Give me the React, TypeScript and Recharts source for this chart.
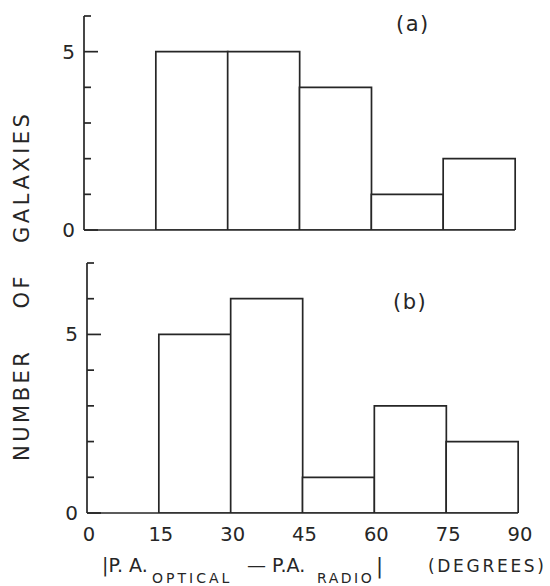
import React from 'react'
import { BarChart, Bar, XAxis, YAxis } from 'recharts'

// histogram bins of |P.A.optical - P.A.radio| (degrees)
const bins = ['0-15', '15-30', '30-45', '45-60', '60-75', '75-90']
const binStart = [0, 15, 30, 45, 60, 75]
const countsA = [0, 5, 5, 4, 1, 2]
const countsB = [0, 5, 6, 1, 3, 2]
const xTicks = [0, 15, 30, 45, 60, 75, 90]
const yTicksA = [0, 1, 2, 3, 4, 5, 6]
const yTicksB = [0, 1, 2, 3, 4, 5, 6, 7]
const yLabelled = [0, 5]

const INK = '#262626'
const FONT = '"DejaVu Sans", sans-serif'

const dataA = bins.map((bin, i) => ({ bin, start: binStart[i], count: countsA[i] }))
const dataB = bins.map((bin, i) => ({ bin, start: binStart[i], count: countsB[i] }))

function YTick(props: any) {
  const { x, y, payload } = props
  const major = yLabelled.includes(payload.value)
  return (
    <g>
      <line x1={x} y1={y} x2={x + (major ? 14 : 7)} y2={y} stroke={INK} strokeWidth={1.7} />
      {major && (
        <text x={x - 9} y={y + 7} textAnchor='end' fontSize={20} fill={INK} fontFamily={FONT}>
          {payload.value}
        </text>
      )}
    </g>
  )
}

function XTick(props: any) {
  const { x, y, payload } = props
  return (
    <text x={x + 2} y={y + 28} textAnchor='middle' fontSize={19.5}
      fill={INK} fontFamily={FONT}>
      {payload.value}
    </text>
  )
}

function Panel({ data, yMax, yTicks, showX, margin, height }:
  { data: any[], yMax: number, yTicks: number[], showX: boolean, margin: any, height: number }) {
  return (
    <BarChart width={550} height={height} data={data} margin={margin}
      barCategoryGap={0} barGap={0}>
      <XAxis xAxisId='num' type='number' dataKey='start' domain={[0, 90]} ticks={xTicks}
        allowDataOverflow interval={0} height={1} tickSize={0} tickMargin={0}
        tickLine={false} tick={showX ? <XTick /> : false}
        axisLine={{ stroke: INK, strokeWidth: 1.7 }} />
      <XAxis xAxisId='cat' dataKey='bin' hide height={0} />
      <YAxis domain={[0, yMax]} ticks={yTicks} allowDataOverflow interval={0}
        width={1} tickSize={0} tickMargin={0} tickLine={false} tick={<YTick />}
        axisLine={{ stroke: INK, strokeWidth: 1.7 }} />
      <Bar xAxisId='cat' dataKey='count' fill='#ffffff' stroke={INK} strokeWidth={1.7}
        isAnimationActive={false} />
    </BarChart>
  )
}

export default function App() {
  return (
    <div style={{ position: 'absolute', left: 0, top: 0, width: 550, height: 586,
      background: '#ffffff', fontFamily: FONT }}>
      <div style={{ position: 'absolute', left: 0, top: 0 }}>
        <Panel data={dataA} yMax={6} yTicks={yTicksA} showX={false} height={250}
          margin={{ top: 16, right: 35, bottom: 19, left: 83 }} />
      </div>
      <div style={{ position: 'absolute', left: 0, top: 250 }}>
        <Panel data={dataB} yMax={7} yTicks={yTicksB} showX={true} height={336}
          margin={{ top: 13, right: 32, bottom: 72, left: 86 }} />
      </div>
      <svg width={550} height={586} style={{ position: 'absolute', left: 0, top: 0,
        pointerEvents: 'none' }} fontFamily={FONT} fill={INK}>
        <text x={396} y={31} fontSize={21} style={{ letterSpacing: 1.5 }}>(a)</text>
        <text x={393} y={309} fontSize={21} style={{ letterSpacing: 1.5 }}>(b)</text>
        <text x={29} y={461} transform='rotate(-90, 29, 461)' fontSize={21}
          style={{ letterSpacing: 3.5 }}>
          <tspan>NUMBER</tspan>
          <tspan dx={40}>OF</tspan>
          <tspan dx={30}>GALAXIES</tspan>
        </text>
        <text x={102} y={572} fontSize={19}>|P. A.</text>
        <text x={152} y={583} fontSize={14} style={{ letterSpacing: 3 }}>OPTICAL</text>
        <text x={247} y={572} fontSize={19}>— P.A.</text>
        <text x={317} y={583} fontSize={14} style={{ letterSpacing: 2.5 }}>RADIO</text>
        <text x={376} y={573} fontSize={21}>|</text>
        <text x={428} y={572} fontSize={17} style={{ letterSpacing: 2.7 }}>(DEGREES)</text>
      </svg>
    </div>
  )
}
